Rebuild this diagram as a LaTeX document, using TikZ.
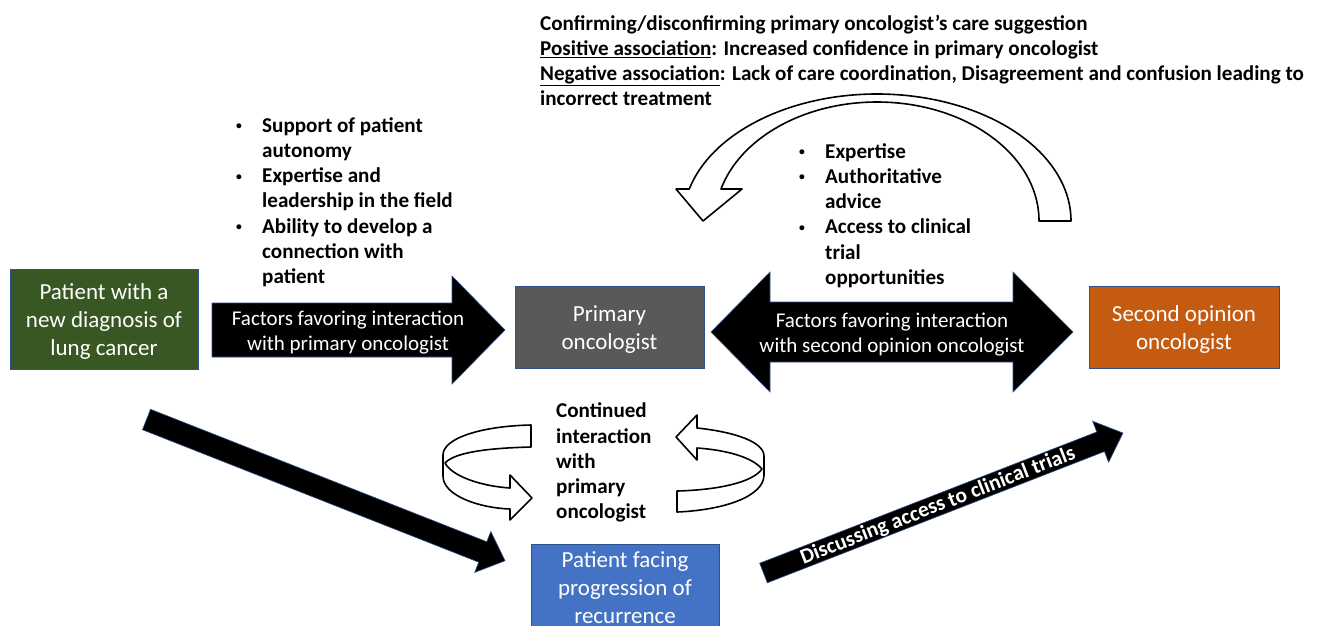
\documentclass[tikz,border=0pt]{standalone}
\usepackage{fontspec}
\setmainfont{Carlito}
\definecolor{boxline}{RGB}{47,82,143}
\definecolor{cgreen}{RGB}{56,87,35}
\definecolor{cgray}{RGB}{89,89,89}
\definecolor{corange}{RGB}{197,90,17}
\definecolor{cblue}{RGB}{68,114,196}
\tikzset{
  colbox/.style={draw=boxline, line width=0.8pt, text=white, inner sep=0pt,
    font=\fontsize{23}{28}\selectfont},
  blockarrow/.style={fill=black, draw=boxline, line width=0.6pt},
  hollow/.style={fill=white, draw=black, line width=1.6pt, line join=round},
  arrowtext/.style={text=white, inner sep=0pt, font=\fontsize{21}{25.7}\selectfont},
  boldtext/.style={inner sep=0pt, anchor=north west, font=\bfseries\fontsize{21.1}{25.2}\selectfont},
}
\newcommand{\mlc}[1]{\begin{tabular}{@{}c@{}}#1\end{tabular}}
\newcommand{\mlcb}[1]{\raisebox{-3pt}[\height][\depth]{\begin{tabular}{@{}c@{}}#1\end{tabular}}}
\newcommand{\mll}[1]{\begin{tabular}{@{}l@{}}#1\end{tabular}}
\newcommand{\bul}[1]{\begin{tabular}{@{}p{26pt}@{}l@{}}#1\end{tabular}}
\newcommand{\sbul}{\raisebox{2.6pt}{\scalebox{0.55}{\textbullet}}}
\begin{document}
\begin{tikzpicture}[x=1pt,y=1pt]
\useasboundingbox (0,0) rectangle (1319,-625);
\fill[white] (0,0) rectangle (1319,-625);

% boxes
\node[colbox, fill=cgreen, minimum width=188pt, minimum height=100pt] (diag) at (104,-319)
  {\mlcb{Patient with a\\new diagnosis of\\lung cancer}};
\node[colbox, fill=cgray, minimum width=189pt, minimum height=82pt] (prim) at (609.5,-327)
  {\mlcb{Primary\\oncologist}};
\node[colbox, fill=corange, minimum width=190pt, minimum height=82pt] (second) at (1184,-327)
  {\mlcb{Second opinion\\oncologist}};
\node[colbox, fill=cblue, minimum width=188pt, minimum height=86pt] (prog) at (625,-587)
  {\mlcb{Patient facing\\progression of\\recurrence}};

% right block arrow
\draw[blockarrow] (212,-303) -- (452,-303) -- (452,-276) -- (505,-330) -- (452,-384) -- (452,-357) -- (212,-357) -- cycle;
\node[arrowtext] (a1txt) at (348,-333) {\mlc{Factors favoring interaction\\with primary oncologist}};

% double block arrow
\draw[blockarrow] (711,-332) -- (770,-272) -- (770,-302) -- (1013,-302) -- (1013,-272) -- (1073,-332)
  -- (1013,-392) -- (1013,-362) -- (770,-362) -- (770,-392) -- cycle;
\node[arrowtext] (a2txt) at (892,-335) {\mlc{Factors favoring interaction\\with second opinion oncologist}};

% diagonal arrow 1
\begin{scope}[shift={(146.5,-419.5)}, rotate=-21.5]
  \draw[blockarrow] (0,11) -- (361.4,11) -- (361.4,22) -- (385.4,0) -- (361.4,-22) -- (361.4,-11) -- (0,-11) -- cycle;
\end{scope}

% diagonal arrow 2
\begin{scope}[shift={(763.5,-573)}, rotate=21.28]
  \draw[blockarrow] (0,10.5) -- (361.8,10.5) -- (361.8,22) -- (385.8,0) -- (361.8,-22) -- (361.8,-10.5) -- (0,-10.5) -- cycle;
\end{scope}
\node[text=white, inner sep=0pt, rotate=21.28, font=\bfseries\fontsize{21.5}{25}\selectfont] (a3txt) at (938,-506)
  {Discussing access to clinical trials};

% big U-turn arrow
\draw[hollow] (1039,-221) arc[start angle=0, end angle=164.4, x radius=162pt, y radius=119pt]
  -- (742,-189) -- (703,-221) -- (676,-189) -- (689.3,-189)
  arc[start angle=165.4, end angle=0, x radius=194pt, y radius=127pt] -- cycle;

% left loop arrow
\draw[hollow] (531,-425) .. controls (482,-426) and (443,-438) .. (443,-455)
  -- (443,-476) .. controls (443,-496) and (480,-508) .. (510,-509)
  -- (510,-520) -- (532,-498) -- (510,-475) -- (510,-488)
  .. controls (480,-486) and (452,-476) .. (445,-463)
  .. controls (455,-452) and (490,-448) .. (531,-447) -- cycle;

% right loop arrow
\draw[hollow] (676,-437) -- (697,-415) -- (697,-428)
  .. controls (735,-432) and (764,-442) .. (764,-456)
  -- (764,-475) .. controls (764,-496) and (725,-510) .. (677,-512)
  -- (677,-491) .. controls (716,-490) and (752,-483) .. (762,-469)
  .. controls (752,-457) and (726,-450) .. (697,-448)
  -- (697,-460) -- cycle;

% texts
\node[boldtext] (toptxt) at (540,-12.4) {\mll{Confirming/disconfirming primary oncologist’s care suggestion\\
  \underline{Positive association}: Increased confidence in primary oncologist\\
  \underline{Negative association}: Lack of care coordination, Disagreement and confusion leading to\\
  incorrect treatment}};

\node[boldtext] (leftbul) at (236,-114.4) {\bul{\sbul & Support of patient\\
  & autonomy\\
  \sbul & Expertise and\\
  & leadership in the field\\
  \sbul & Ability to develop a\\
  & connection with\\
  & patient}};

\node[boldtext] (rightbul) at (799,-140.4) {\bul{\sbul & Expertise\\
  \sbul & Authoritative\\
  & advice\\
  \sbul & Access to clinical\\
  & trial\\
  & opportunities}};

\node[boldtext] (conttxt) at (556,-400) {\mll{Continued\\interaction\\with\\primary\\oncologist}};
\end{tikzpicture}
\end{document}
